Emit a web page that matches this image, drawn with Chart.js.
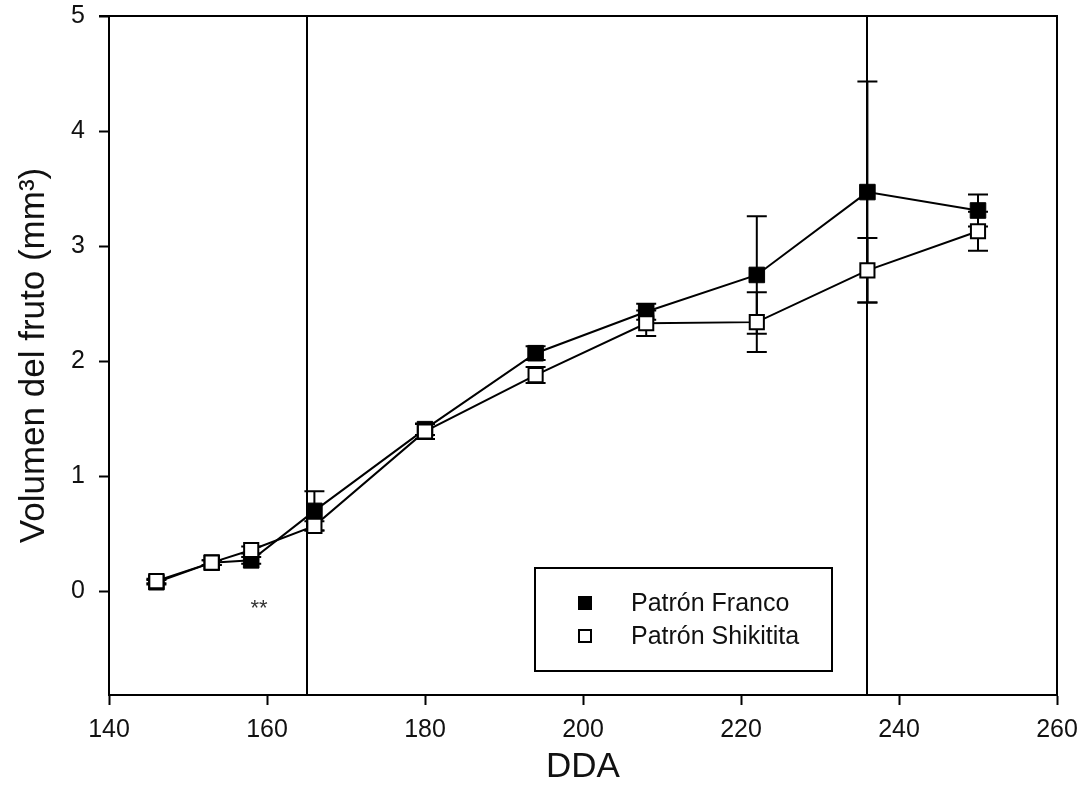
<!DOCTYPE html>
<html>
<head>
<meta charset="utf-8">
<script src="https://cdn.jsdelivr.net/npm/chart.js@4"></script>
<style>
  html, body { margin: 0; padding: 0; background: #fff; }
  #wrap { width: 1081px; height: 804px; }
</style>
</head>
<body>
<div id="wrap"><canvas id="volChart" width="1081" height="804"></canvas></div>
<script>
// days after anthesis
var dda = [146, 153, 158, 166, 180, 194, 208, 222, 236, 250];
var francoVol = [0.08, 0.25, 0.27, 0.70, 1.41, 2.07, 2.43, 2.75, 3.47, 3.31];
var francoErr = [0.02, 0.02, 0.03, 0.17, 0.05, 0.06, 0.07, 0.51, 0.96, 0.14];
var shikiVol  = [0.09, 0.25, 0.36, 0.57, 1.39, 1.88, 2.33, 2.34, 2.79, 3.13];
var shikiErr  = [0.02, 0.02, 0.03, 0.04, 0.065, 0.07, 0.11, 0.26, 0.28, 0.17];
var xTicks = [140, 160, 180, 200, 220, 240, 260];
var yTicks = [0, 1, 2, 3, 4, 5];
var refLines = [165, 236];
var seriesNames = ['Patrón Franco', 'Patrón Shikitita'];
var stars = { x: 159, y: -0.15, text: '**' };

var FONT = '"Liberation Sans", Arial, sans-serif';

function toPoints(xs, ys){
  return xs.map((x,i)=>({x: x, y: ys[i]}));
}

// error bars, reference lines, frame, ** mark and legend box
var extras = {
  id: 'extras',
  beforeDatasetsDraw(chart){
    const ctx = chart.ctx, xs = chart.scales.x, ys = chart.scales.y, a = chart.chartArea;
    ctx.save();
    ctx.strokeStyle = '#000';
    ctx.lineWidth = 2;
    refLines.forEach(v=>{
      const px = Math.round(xs.getPixelForValue(v));
      ctx.beginPath(); ctx.moveTo(px, a.top); ctx.lineTo(px, a.bottom); ctx.stroke();
    });
    [[francoVol, francoErr], [shikiVol, shikiErr]].forEach(s=>{
      dda.forEach((d,i)=>{
        const px = xs.getPixelForValue(d);
        const hi = ys.getPixelForValue(s[0][i] + s[1][i]);
        const lo = ys.getPixelForValue(s[0][i] - s[1][i]);
        ctx.beginPath();
        ctx.moveTo(px, hi); ctx.lineTo(px, lo);
        ctx.moveTo(px - 10, hi); ctx.lineTo(px + 10, hi);
        ctx.moveTo(px - 10, lo); ctx.lineTo(px + 10, lo);
        ctx.stroke();
      });
    });
    ctx.restore();
  },
  afterDraw(chart){
    const ctx = chart.ctx, xs = chart.scales.x, ys = chart.scales.y, a = chart.chartArea;
    ctx.save();
    ctx.strokeStyle = '#000';
    ctx.lineWidth = 2;
    ctx.beginPath();
    ctx.moveTo(a.left - 10, a.top); ctx.lineTo(a.right, a.top); ctx.lineTo(a.right, a.bottom);
    ctx.stroke();

    ctx.fillStyle = '#333';
    ctx.font = '22px ' + FONT;
    ctx.textAlign = 'center';
    ctx.textBaseline = 'middle';
    ctx.fillText(stars.text, xs.getPixelForValue(stars.x), ys.getPixelForValue(stars.y));

    // legend
    ctx.strokeRect(535, 568, 297, 103);
    ctx.font = '25px ' + FONT;
    ctx.textAlign = 'left';
    ctx.fillStyle = '#111';
    ctx.fillText(seriesNames[0], 631, 604);
    ctx.fillText(seriesNames[1], 631, 637);
    ctx.fillStyle = '#000';
    ctx.fillRect(578, 596, 14, 14);
    ctx.fillStyle = '#fff';
    ctx.fillRect(579, 630, 12, 12);
    ctx.strokeRect(579, 630, 12, 12);
    ctx.restore();
  }
};

var tickFont = { family: FONT, size: 25 };
var titleFont = { family: FONT, size: 35, lineHeight: 1 };

var volChart = new Chart(document.getElementById('volChart').getContext('2d'), {
  type: 'line',
  data: {
    datasets: [
      {
        label: seriesNames[1],
        data: toPoints(dda, shikiVol),
        order: 0,
        borderColor: '#000', borderWidth: 2,
        pointStyle: 'rect', pointRadius: 10,
        pointBackgroundColor: '#fff', pointBorderColor: '#000', pointBorderWidth: 2,
        tension: 0
      },
      {
        label: seriesNames[0],
        data: toPoints(dda, francoVol),
        order: 1,
        borderColor: '#000', borderWidth: 2,
        pointStyle: 'rect', pointRadius: 11,
        pointBackgroundColor: '#000', pointBorderColor: '#000', pointBorderWidth: 1,
        tension: 0
      }
    ]
  },
  options: {
    responsive: false,
    animation: false,
    events: [],
    layout: { padding: { top: 16, right: 24, bottom: 0, left: 0 } },
    plugins: { legend: { display: false }, tooltip: { enabled: false } },
    scales: {
      x: {
        type: 'linear', min: 140, max: 260,
        afterFit: s => { s.height = 109; s.paddingLeft = 0; s.paddingRight = 0; },
        afterBuildTicks: s => { s.ticks = xTicks.map(v=>({value: v})); },
        border: { color: '#000', width: 2 },
        grid: { drawOnChartArea: false, drawTicks: true, tickLength: 10, tickWidth: 2, tickColor: '#000' },
        ticks: { color: '#111', font: tickFont, padding: 10, maxRotation: 0 },
        title: { display: true, text: 'DDA', color: '#111', font: titleFont, padding: { top: 0, bottom: 19 } }
      },
      y: {
        type: 'linear', min: -0.9, max: 5,
        afterFit: s => { s.width = 109; s.paddingTop = 0; s.paddingBottom = 0; },
        afterBuildTicks: s => { s.ticks = yTicks.map(v=>({value: v})); },
        border: { color: '#000', width: 2 },
        grid: { drawOnChartArea: false, drawTicks: true, tickLength: 10, tickWidth: 2, tickColor: '#000' },
        ticks: { color: '#111', font: tickFont, padding: 14 },
        title: { display: true, text: 'Volumen del fruto (mm³)', color: '#111', font: titleFont, padding: { top: 17, bottom: 0 } }
      }
    }
  },
  plugins: [extras]
});
</script>
</body>
</html>
